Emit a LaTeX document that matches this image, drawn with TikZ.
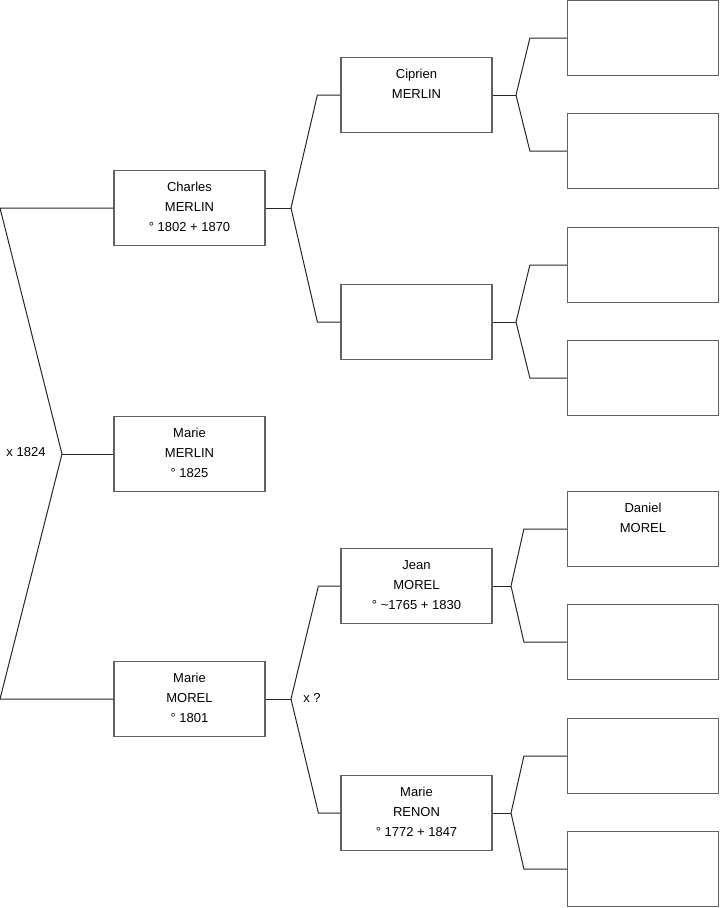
\documentclass[tikz,border=0pt]{standalone}
\usepackage{fontspec}
\setmainfont{Liberation Sans}
\begin{document}
\begin{tikzpicture}[x=0.75pt,y=-0.75pt,
  pbox/.style={draw=black!62, line width=0.9pt, fill=white, minimum width=113.25pt, minimum height=56.25pt, inner sep=0pt},
  ptxt/.style={anchor=north, align=center, font=\fontsize{9.75}{15}\selectfont, inner sep=0pt},
  conn/.style={draw=black!85, line width=0.75pt},
  lbl/.style={font=\fontsize{9.75}{11}\selectfont, inner sep=0pt}]
\useasboundingbox (0,0) rectangle (719,908);
% left column
\node[pbox] (cm) at (189.5,208) {};
\node[pbox] (mme) at (189.5,454) {};
\node[pbox] (mmo) at (189.5,699) {};
% middle column
\node[pbox] (cip) at (416.5,95) {};
\node[pbox] (e1) at (416.5,322) {};
\node[pbox] (jm) at (416.5,586) {};
\node[pbox] (mr) at (416.5,813) {};
% right column
\node[pbox] (r1) at (643,38) {};
\node[pbox] (r2) at (643,151) {};
\node[pbox] (r3) at (643,265) {};
\node[pbox] (r4) at (643,378) {};
\node[pbox] (r5) at (643,529) {};
\node[pbox] (r6) at (643,642) {};
\node[pbox] (r7) at (643,756) {};
\node[pbox] (r8) at (643,869) {};
% texts
\node[ptxt] (tcm) at ([yshift=-9pt]cm.north) {Charles\\MERLIN\\° 1802 + 1870};
\node[ptxt] (tmme) at ([yshift=-9pt]mme.north) {Marie\\MERLIN\\° 1825};
\node[ptxt] (tmmo) at ([yshift=-9pt]mmo.north) {Marie\\MOREL\\° 1801};
\node[ptxt] (tcip) at ([yshift=-9pt]cip.north) {Ciprien\\MERLIN};
\node[ptxt] (tjm) at ([yshift=-9pt]jm.north) {Jean\\MOREL\\° \textasciitilde1765 + 1830};
\node[ptxt] (tmr) at ([yshift=-9pt]mr.north) {Marie\\RENON\\° 1772 + 1847};
\node[ptxt] (tr5) at ([yshift=-9pt]r5.north) {Daniel\\MOREL};
% left connectors
\coordinate (a0) at (0,208);
\coordinate (a1) at (62,454);
\coordinate (a2) at (0,699);
\draw[conn] (cm.west) -- (a0) -- (a1) -- (a2) -- (mmo.west);
\draw[conn] (a1) -- (mme.west);
\node[lbl] (x1824) at (26,452) {x 1824};
% Charles -> parents
\coordinate (b0) at (291,208);
\draw[conn] (cm.east) -- (b0);
\draw[conn] (b0) -- ([xshift=-17.25pt]cip.west) -- (cip.west);
\draw[conn] (b0) -- ([xshift=-17.25pt]e1.west) -- (e1.west);
% Marie MOREL -> parents
\coordinate (c0) at (291,699);
\draw[conn] (mmo.east) -- (c0);
\draw[conn] (c0) -- ([xshift=-16.5pt]jm.west) -- (jm.west);
\draw[conn] (c0) -- ([xshift=-16.5pt]mr.west) -- (mr.west);
\node[lbl, anchor=west] (xq) at (303,698) {x ?};
% Ciprien
\coordinate (d0) at (516,95);
\draw[conn] (cip.east) -- (d0);
\draw[conn] (d0) -- ([xshift=-27.75pt]r1.west) -- (r1.west);
\draw[conn] (d0) -- ([xshift=-27.75pt]r2.west) -- (r2.west);
% empty
\coordinate (e0) at (516,322);
\draw[conn] (e1.east) -- (e0);
\draw[conn] (e0) -- ([xshift=-27.75pt]r3.west) -- (r3.west);
\draw[conn] (e0) -- ([xshift=-27.75pt]r4.west) -- (r4.west);
% Jean
\coordinate (f0) at (511,586);
\draw[conn] (jm.east) -- (f0);
\draw[conn] (f0) -- ([xshift=-32.25pt]r5.west) -- (r5.west);
\draw[conn] (f0) -- ([xshift=-32.25pt]r6.west) -- (r6.west);
% Marie RENON
\coordinate (g0) at (511,813);
\draw[conn] (mr.east) -- (g0);
\draw[conn] (g0) -- ([xshift=-32.25pt]r7.west) -- (r7.west);
\draw[conn] (g0) -- ([xshift=-32.25pt]r8.west) -- (r8.west);
\end{tikzpicture}
\end{document}
